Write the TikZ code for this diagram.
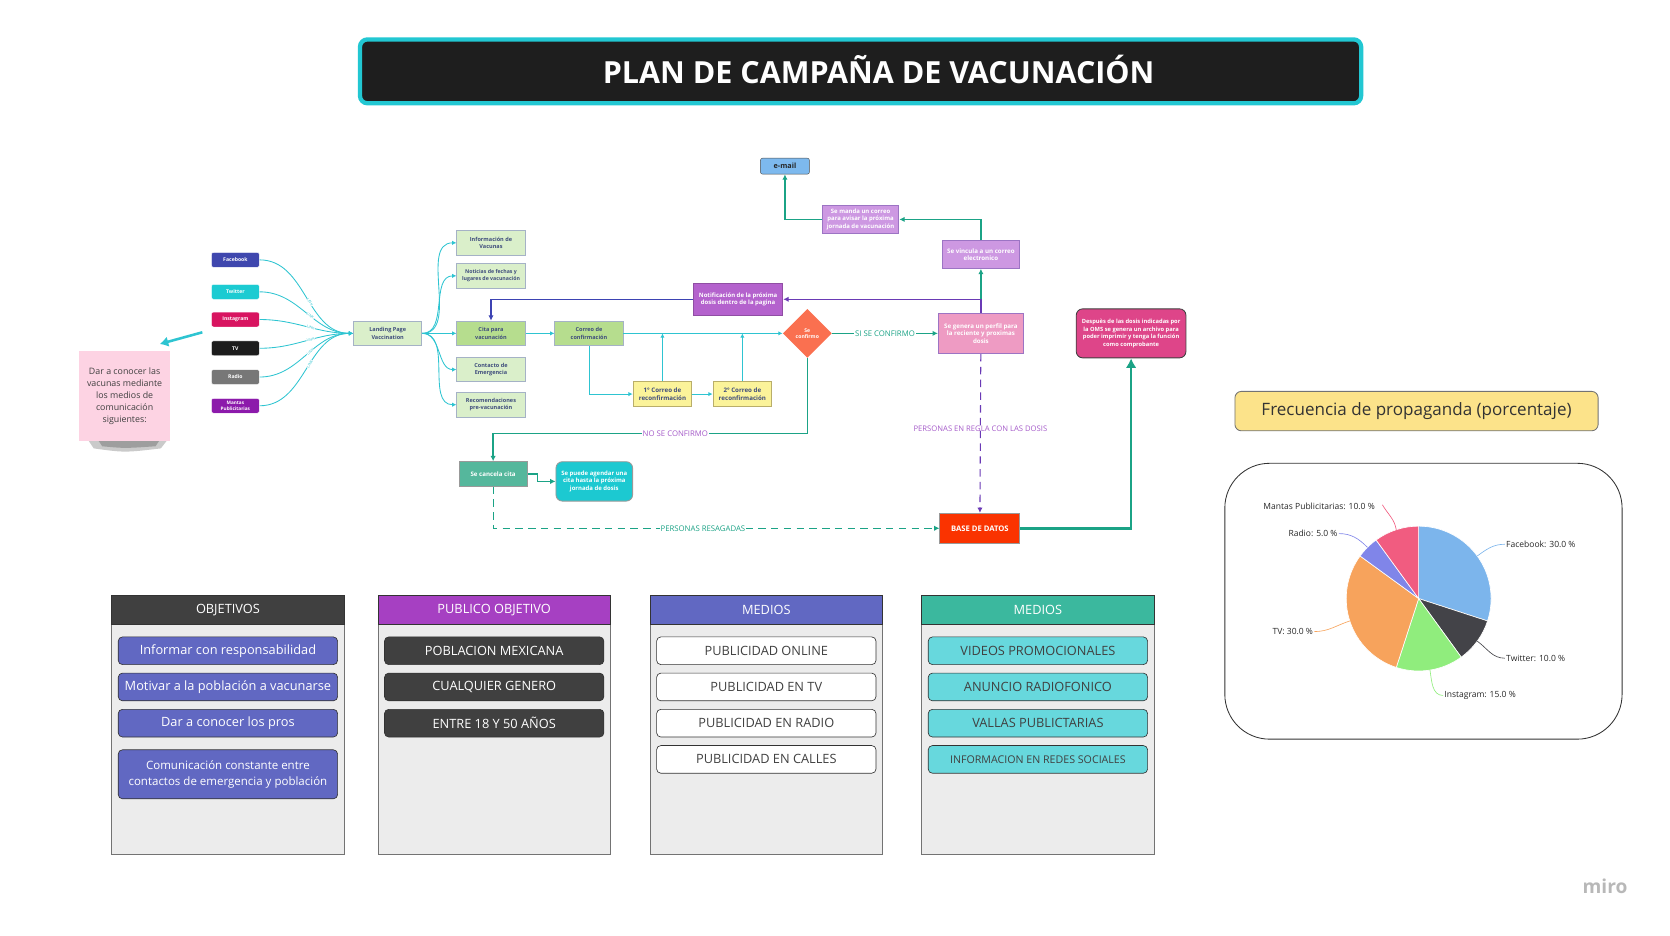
\documentclass[tikz,border=0pt]{standalone}
\usepackage{fontspec}
\setmainfont{Open Sans}
\usepackage{tikz}
\usetikzlibrary{arrows.meta,calc,positioning,shapes.geometric}
\definecolor{titlebg}{HTML}{1E1E1E}
\definecolor{titleline}{HTML}{22C7D2}
\definecolor{linkcyan}{HTML}{2EC4D1}
\definecolor{flowgreen}{HTML}{1BA386}
\definecolor{flowpurple}{HTML}{6A3AB5}
\definecolor{flowblue}{HTML}{3D43B3}
\definecolor{labelpurple}{HTML}{A55BC9}
\definecolor{pagegreen}{HTML}{DAEFCA}
\definecolor{citagreen}{HTML}{B6DD8E}
\definecolor{pageline}{HTML}{A5B2C6}
\definecolor{pagetext}{HTML}{3E4C7C}
\definecolor{reconf}{HTML}{FBF39A}
\definecolor{reconfline}{HTML}{B9AE6A}
\definecolor{fbblue}{HTML}{3F47AE}
\definecolor{twcyan}{HTML}{1CCBD2}
\definecolor{igred}{HTML}{D81460}
\definecolor{tvblack}{HTML}{1C1C1C}
\definecolor{radiogray}{HTML}{777777}
\definecolor{mantaspurple}{HTML}{8C1AAB}
\definecolor{sticky}{HTML}{FDD3E3}
\definecolor{notipurple}{HTML}{B462CD}
\definecolor{lilac}{HTML}{CD98E2}
\definecolor{lilacline}{HTML}{9C74C4}
\definecolor{mailblue}{HTML}{7DB9EE}
\definecolor{perfilpink}{HTML}{EE9BC3}
\definecolor{diamondorange}{HTML}{FA7050}
\definecolor{dbred}{HTML}{FA3300}
\definecolor{cancelteal}{HTML}{55B79C}
\definecolor{agendacyan}{HTML}{1CC9D1}
\definecolor{omspink}{HTML}{DE4589}
\definecolor{freqyellow}{HTML}{FCE38A}
\definecolor{panelgray}{HTML}{ECECEC}
\definecolor{headdark}{HTML}{404040}
\definecolor{headpurple}{HTML}{A640C2}
\definecolor{headindigo}{HTML}{6168C2}
\definecolor{headteal}{HTML}{3BB89E}
\definecolor{itemcyan}{HTML}{67D8DD}
\definecolor{piefb}{HTML}{7CB5EC}
\definecolor{pietw}{HTML}{434348}
\definecolor{pieig}{HTML}{90ED7D}
\definecolor{pietv}{HTML}{F7A35C}
\definecolor{pieradio}{HTML}{8085E9}
\definecolor{piemantas}{HTML}{F15C80}

\begin{document}
\begin{tikzpicture}[x=1pt,y=-1pt,
    social/.style={rounded corners=2pt, fill=#1, draw=white, minimum width=45pt, minimum height=14pt, text=white, font=\fontsize{4.8}{5.2}\selectfont\bfseries, align=center, inner sep=1pt},
    page/.style={draw=pageline, fill=pagegreen, line width=0.8pt, minimum width=64pt, minimum height=23pt, text=pagetext, font=\fontsize{5.2}{7}\selectfont\bfseries, align=center, inner sep=1pt},
    reconfbox/.style={page, fill=reconf, draw=reconfline, minimum width=55pt, font=\fontsize{5.8}{7.4}\selectfont\bfseries},
    whitebox/.style={draw=#1, line width=0.8pt, text=white, font=\fontsize{5.8}{7}\selectfont\bfseries, align=center, inner sep=1pt},
    link/.style={draw=linkcyan, line width=0.8pt, -{Latex[length=4pt,width=4pt]}},
    linklabel/.style={sloped, fill=white, inner sep=0.3pt, text=linkcyan, font=\fontsize{3.4}{4}\selectfont},
    flow/.style={draw=flowgreen, line width=1.2pt, -{Latex[length=5pt,width=5pt]}},
    flowlabel/.style={fill=white, inner sep=1pt, font=\fontsize{7.3}{8}\selectfont},
    panel/.style={draw=black!55, fill=panelgray, line width=0.8pt, minimum width=218pt, minimum height=243pt},
    header/.style={draw=black!80, fill=#1, line width=0.8pt, minimum width=218pt, minimum height=27pt, text=white, font=\fontsize{12}{14}\selectfont},
    item/.style={rounded corners=4pt, draw=black!80, line width=0.6pt, minimum width=206pt, minimum height=26pt, font=\fontsize{12}{14}\selectfont, align=center, inner sep=1pt},
    pielabel/.style={text=black!85, font=\fontsize{8}{9}\selectfont, inner sep=1pt}
  ]
  \useasboundingbox (0,0) rectangle (1568,878);

  \node[draw=titleline, line width=4pt, fill=titlebg, rounded corners=7pt, minimum width=940pt, minimum height=60pt, text=white, font=\fontsize{28.6}{32}\selectfont\bfseries] (title) at (808,67) {\hspace*{34pt}\raisebox{3pt}{PLAN DE CAMPAÑA DE VACUNACIÓN}};

  \node[social=fbblue] (fb) at (221,244) {Facebook};
  \node[social=twcyan] (tw) at (221,274) {Twitter};
  \node[social=igred] (ig) at (221,300) {Instagram};
  \node[social=tvblack] (tv) at (221,327) {TV};
  \node[social=radiogray] (radio) at (221,354) {Radio};
  \node[social=mantaspurple, font=\fontsize{4.4}{5}\selectfont\bfseries] (mantas) at (221,381) {Mantas\\Publicitarias};

  \fill[black!60, opacity=0.35] (82,412) -- (158,412) -- (151,421) .. controls (117,425) .. (88,421) -- cycle;
  \fill[black!70, opacity=0.35] (92,413) -- (150,413) -- (146,419) .. controls (117,421) .. (96,419) -- cycle;
  \node[fill=sticky, minimum width=86pt, minimum height=85pt, align=center, text=black!75, font=\fontsize{8.3}{11.5}\selectfont] (note) at (117,372) {Dar a conocer las\\vacunas mediante\\los medios de\\comunicación\\siguientes:};
  \coordinate (igarrow) at (190,312);
  \coordinate (notearrow) at (150,323);
  \draw[linkcyan, line width=2.4pt, -{Latex[length=8pt,width=10pt]}] (igarrow) -- (notearrow);

  \node[page] (landing) at (364,313) {Landing Page\\Vaccination};
  \node[page] (infovac) at (461,228) {Información de\\Vacunas};
  \node[page, font=\fontsize{4.9}{6.6}\selectfont\bfseries] (noticias) at (461,259) {Noticias de fechas y\\lugares de vacunación};
  \node[page, fill=citagreen] (cita) at (461,313) {Cita para\\vacunación};
  \node[page] (contacto) at (461,347) {Contacto de\\Emergencia};
  \node[page] (recom) at (461,380) {Recomendaciones\\pre-vacunación};
  \node[page, fill=citagreen] (correo) at (553,313) {Correo de\\confirmación};
  \node[reconfbox] (rc1) at (622,370) {1° Correo de\\reconfirmación};
  \node[reconfbox] (rc2) at (697,370) {2° Correo de\\reconfirmación};

  \node[diamond, fill=diamondorange, minimum width=46pt, minimum height=46pt, inner sep=0pt, text=white, align=center, font=\fontsize{4.8}{5.8}\selectfont\bfseries] (conf) at (758,313) {Se\\confirmo};
  \node[whitebox=lilacline, fill=perfilpink, minimum width=80pt, minimum height=38pt] (perfil) at (921,313) {Se genera un perfil para\\la reciente y proximas\\dosis};
  \node[whitebox=notipurple!80!black, fill=notipurple, minimum width=84pt, minimum height=30pt, font=\fontsize{5.6}{7}\selectfont\bfseries] (noti) at (693,281) {Notificación de la próxima\\dosis dentro de la pagina};
  \node[whitebox=lilacline, fill=lilac, minimum width=72pt, minimum height=26pt] (vincula) at (921,239) {Se vincula a un correo\\electronico};
  \node[whitebox=lilacline, fill=lilac, minimum width=72pt, minimum height=26pt, font=\fontsize{5.6}{6.8}\selectfont\bfseries] (manda) at (808,206) {Se manda un correo\\para avisar la próxima\\jornada de vacunación};
  \node[draw=black!70, fill=mailblue, rounded corners=2pt, minimum width=46pt, minimum height=15pt, text=black!85, font=\fontsize{6.8}{7}\selectfont\bfseries, inner sep=1pt] (email) at (737,156) {e-mail};
  \node[whitebox=black!75, fill=omspink, rounded corners=6pt, minimum width=103pt, minimum height=46pt, font=\fontsize{5.4}{7}\selectfont\bfseries] (oms) at (1062,313) {Despuès de las dosis indicadas por\\la OMS se genera un archivo para\\poder imprimir y tenga la función\\como comprobante};
  \node[whitebox=black!40, fill=cancelteal, minimum width=64pt, minimum height=23pt] (cancela) at (463,445) {Se cancela cita};
  \node[whitebox=black!40, fill=agendacyan, rounded corners=6pt, minimum width=72pt, minimum height=37pt, font=\fontsize{5.6}{7}\selectfont\bfseries] (agendar) at (558,452) {Se puede agendar una\\cita hasta la próxima\\jornada de dosis};
  \node[whitebox=black!40, fill=dbred, minimum width=75pt, minimum height=28pt, font=\fontsize{7.2}{8}\selectfont\bfseries] (db) at (920,496) {BASE DE DATOS};
  \coordinate (nofork) at (463,407);

  \foreach \s in {fb,tw,ig,tv,radio,mantas}
    \draw[link] (\s.east) to[out=0,in=180] node[linklabel, pos=0.55] {LINK} (landing.west);
  \foreach \t in {infovac,noticias,contacto,recom}
    \draw[link] (landing.east) to[out=0,in=180] (\t.west);
  \draw[link] (landing) -- (cita);
  \draw[link] (cita) -- (correo);
  \draw[link] (correo) -- (conf);
  \draw[link] (correo.south) |- (rc1.west);
  \draw[link] (rc1) -- (rc2);
  \draw[link] (rc1.north) -- (rc1.north |- correo.east);
  \draw[link] (rc2.north) -- (rc2.north |- correo.east);

  \draw[flow] (conf) -- node[flowlabel, text=flowgreen] {SI SE CONFIRMO} (perfil);
  \draw[flow] (conf.south) |- node[flowlabel, text=labelpurple, pos=0.71] {NO SE CONFIRMO} (nofork) -- (cancela.north);
  \draw[flow] (cancela.east) -- ++(9,0) |- (agendar.west);
  \draw[flow, line width=1pt, dash pattern=on 7pt off 5pt] (cancela.south) |- node[flowlabel, text=flowgreen, pos=0.735] {PERSONAS RESAGADAS} (db.west);
  \draw[draw=flowpurple, line width=1pt, dash pattern=on 7pt off 5pt, -{Latex[length=5pt,width=5pt]}] (perfil) -- node[text=labelpurple, font=\fontsize{7.2}{8}\selectfont, pos=0.47] {PERSONAS EN REGLA CON LAS DOSIS} (db);
  \draw[draw=flowpurple, line width=1.2pt, -{Latex[length=5pt,width=5pt]}] (perfil.north) |- (noti.east);
  \draw[draw=flowblue, line width=1.2pt, -{Latex[length=5pt,width=5pt]}] (noti.west) -| (cita.north);
  \draw[flow] (perfil.north |- noti.east) -- (vincula.south);
  \draw[flow] (vincula.north) |- (manda.east);
  \draw[flow] (manda.west) -| (email.south);
  \draw[flow, line width=2.6pt, -{Latex[length=9pt,width=10pt]}] (db.east) -| (oms.south);

  \node[rounded corners=6pt, draw=black!55, fill=freqyellow, line width=0.8pt, minimum width=341pt, minimum height=37pt, text=black!80, font=\fontsize{16}{18}\selectfont] (freq) at (1330,386) {Frecuencia de propaganda (porcentaje)};
  \node[draw=black!80, rounded corners=42pt, line width=0.8pt, minimum width=373pt, minimum height=259pt] (piebox) at (1336.5,564.5) {};
  \coordinate (pc) at (1332,562);
  \fill[piefb, draw=white, line width=0.6pt] (pc) -- ++(90:68pt) arc[start angle=90, end angle=-18, radius=68pt] -- cycle;
  \fill[pietw, draw=white, line width=0.6pt] (pc) -- ++(-18:68pt) arc[start angle=-18, end angle=-54, radius=68pt] -- cycle;
  \fill[pieig, draw=white, line width=0.6pt] (pc) -- ++(-54:68pt) arc[start angle=-54, end angle=-108, radius=68pt] -- cycle;
  \fill[pietv, draw=white, line width=0.6pt] (pc) -- ++(-108:68pt) arc[start angle=-108, end angle=-216, radius=68pt] -- cycle;
  \fill[pieradio, draw=white, line width=0.6pt] (pc) -- ++(144:68pt) arc[start angle=144, end angle=126, radius=68pt] -- cycle;
  \fill[piemantas, draw=white, line width=0.6pt] (pc) -- ++(126:68pt) arc[start angle=126, end angle=90, radius=68pt] -- cycle;
  \node[pielabel, anchor=west] (fblbl) at (1413,511) {Facebook: 30.0 \%};
  \node[pielabel, anchor=west] (twlbl) at (1413,618) {Twitter: 10.0 \%};
  \node[pielabel, anchor=west] (iglbl) at (1355,653) {Instagram: 15.0 \%};
  \node[pielabel, anchor=east] (tvlbl) at (1234,593) {TV: 30.0 \%};
  \node[pielabel, anchor=east] (radiolbl) at (1257,501) {Radio: 5.0 \%};
  \node[pielabel, anchor=east] (mantaslbl) at (1292,475) {Mantas Publicitarias: 10.0 \%};
  \draw[piefb, line width=0.6pt] ($(pc)+(36:68pt)$) to[out=36,in=180] (fblbl.west);
  \draw[pietw, line width=0.6pt] ($(pc)+(-36:68pt)$) to[out=-36,in=180] (twlbl.west);
  \draw[pieig, line width=0.6pt] ($(pc)+(-81:68pt)$) to[out=-81,in=180] (iglbl.west);
  \draw[pietv, line width=0.6pt] ($(pc)+(198:68pt)$) to[out=198,in=0] (tvlbl.east);
  \draw[pieradio, line width=0.6pt] ($(pc)+(135:68pt)$) to[out=135,in=0] (radiolbl.east);
  \draw[piemantas, line width=0.6pt] ($(pc)+(108:68pt)$) to[out=100,in=-60] ($(mantaslbl.east)+(6,-1)$);

  \node[panel] (objpanel) at (214,680.5) {};
  \node[header=headdark] (objhead) at (214,572.5) {OBJETIVOS};
  \node[item, fill=headindigo, text=white] (obj1) at (214,611) {Informar con responsabilidad};
  \node[item, fill=headindigo, text=white] (obj2) at (214,645) {Motivar a la población a vacunarse};
  \node[item, fill=headindigo, text=white] (obj3) at (214,679) {Dar a conocer los pros};
  \node[item, fill=headindigo, text=white, minimum height=46pt, font=\fontsize{10.8}{15}\selectfont] (obj4) at (214,727) {Comunicación constante entre\\contactos de emergencia y población};

  \node[panel] (pubpanel) at (464,680.5) {};
  \node[header=headpurple] (pubhead) at (464,572.5) {PUBLICO OBJETIVO};
  \node[item, fill=headdark, text=white] (pub1) at (464,611) {POBLACION MEXICANA};
  \node[item, fill=headdark, text=white] (pub2) at (464,645) {CUALQUIER GENERO};
  \node[item, fill=headdark, text=white] (pub3) at (464,679) {ENTRE 18 Y 50 AÑOS};

  \node[panel] (medpanel) at (719.5,680.5) {};
  \node[header=headindigo] (medhead) at (719.5,572.5) {MEDIOS};
  \node[item, fill=white, text=black!75] (med1) at (719.5,611) {PUBLICIDAD ONLINE};
  \node[item, fill=white, text=black!75] (med2) at (719.5,645) {PUBLICIDAD EN TV};
  \node[item, fill=white, text=black!75] (med3) at (719.5,679) {PUBLICIDAD EN RADIO};
  \node[item, fill=white, text=black!75] (med4) at (719.5,713) {PUBLICIDAD EN CALLES};

  \node[panel] (canpanel) at (974.5,680.5) {};
  \node[header=headteal] (canhead) at (974.5,572.5) {MEDIOS};
  \node[item, fill=itemcyan, text=black!75] (can1) at (974.5,611) {VIDEOS PROMOCIONALES};
  \node[item, fill=itemcyan, text=black!75] (can2) at (974.5,645) {ANUNCIO RADIOFONICO};
  \node[item, fill=itemcyan, text=black!75] (can3) at (974.5,679) {VALLAS PUBLICTARIAS};
  \node[item, fill=itemcyan, text=black!75, font=\fontsize{10}{12}\selectfont] (can4) at (974.5,713) {INFORMACION EN REDES SOCIALES};

  \node[text=black!28, font=\fontsize{18}{20}\selectfont\bfseries] (miro) at (1507,832) {miro};
\end{tikzpicture}
\end{document}
